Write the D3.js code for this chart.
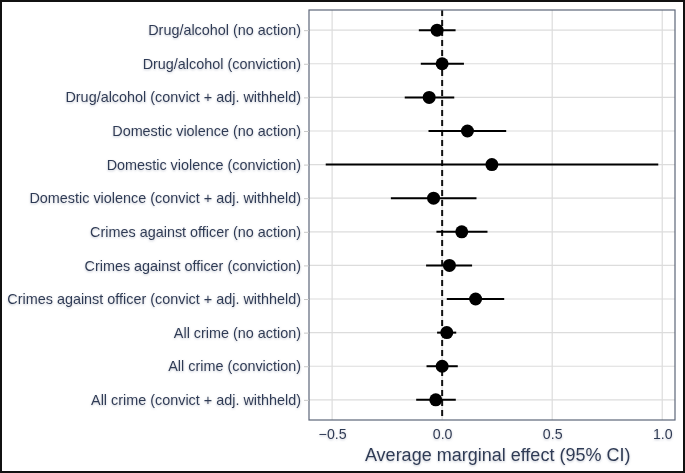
<!DOCTYPE html>
<html>
<head>
<meta charset="utf-8">
<script src="https://cdn.jsdelivr.net/npm/d3@7"></script>
<style>
  html, body { margin: 0; padding: 0; background: #fff; }
  svg text { font-family: "Liberation Sans", Arial, sans-serif; fill: #2f3b55; }
</style>
</head>
<body>
<div id="viz"></div>
<script>
// categories top to bottom
const labels = [
  "Drug/alcohol (no action)",
  "Drug/alcohol (conviction)",
  "Drug/alcohol (convict + adj. withheld)",
  "Domestic violence (no action)",
  "Domestic violence (conviction)",
  "Domestic violence (convict + adj. withheld)",
  "Crimes against officer (no action)",
  "Crimes against officer (conviction)",
  "Crimes against officer (convict + adj. withheld)",
  "All crime (no action)",
  "All crime (conviction)",
  "All crime (convict + adj. withheld)"
];
const estimates = [-0.023, 0.0, -0.059, 0.115, 0.226, -0.039, 0.089, 0.033, 0.152, 0.021, 0.0, -0.029];
const lower     = [-0.106, -0.097, -0.170, -0.062, -0.529, -0.233, -0.026, -0.073, 0.021, -0.023, -0.071, -0.118];
const upper     = [0.061, 0.099, 0.055, 0.291, 0.982, 0.156, 0.206, 0.136, 0.282, 0.064, 0.071, 0.062];
const xTicks = [-0.5, 0.0, 0.5, 1.0];

const rows = labels.map((l, i) => ({label: l, est: estimates[i], lo: lower[i], hi: upper[i]}));

const W = 685, H = 473;
const margin = {top: 10, right: 10, bottom: 53, left: 309};
const iw = W - margin.left - margin.right;
const ih = H - margin.top - margin.bottom;

const svg = d3.select("#viz").append("svg").attr("width", W).attr("height", H);

// soft shadow on text, like the original
const defs = svg.append("defs");
const f = defs.append("filter").attr("id", "glow").attr("x", "-10%").attr("y", "-30%").attr("width", "120%").attr("height", "160%");
f.append("feDropShadow").attr("dx", 0).attr("dy", 1).attr("stdDeviation", 1.2).attr("flood-color", "#8a93a6").attr("flood-opacity", 0.5);

// outer frame
svg.append("rect")
  .attr("x", 1).attr("y", 1).attr("width", W - 2).attr("height", H - 2)
  .attr("fill", "#fff").attr("stroke", "#111").attr("stroke-width", 2);

const g = svg.append("g").attr("transform", `translate(${margin.left},${margin.top})`);

const x = d3.scaleLinear().domain([-0.605, 1.058]).range([0, iw]);
const y = d3.scalePoint().domain(labels).range([0, ih]).padding(0.6);

// grid
g.append("g").selectAll("line").data(xTicks).join("line")
  .attr("x1", d => x(d)).attr("x2", d => x(d))
  .attr("y1", 0).attr("y2", ih)
  .attr("stroke", "#dcdcdc").attr("stroke-width", 1.2);
g.append("g").selectAll("line").data(labels).join("line")
  .attr("x1", 0).attr("x2", iw)
  .attr("y1", d => y(d)).attr("y2", d => y(d))
  .attr("stroke", "#dcdcdc").attr("stroke-width", 1.2);

// zero reference
g.append("line")
  .attr("x1", x(0)).attr("x2", x(0)).attr("y1", 0).attr("y2", ih)
  .attr("stroke", "#111").attr("stroke-width", 2).attr("stroke-dasharray", "6,4");

// CIs
g.append("g").selectAll("line").data(rows).join("line")
  .attr("x1", d => x(d.lo)).attr("x2", d => x(d.hi))
  .attr("y1", d => y(d.label)).attr("y2", d => y(d.label))
  .attr("stroke", "#000").attr("stroke-width", 2);

// points
g.append("g").selectAll("circle").data(rows).join("circle")
  .attr("cx", d => x(d.est)).attr("cy", d => y(d.label))
  .attr("r", 6.5).attr("fill", "#000");

// panel border
g.append("rect")
  .attr("x", 0).attr("y", 0).attr("width", iw).attr("height", ih)
  .attr("fill", "none").attr("stroke", "#5d6679").attr("stroke-width", 1.2);

// axes
const yAxis = g.append("g").call(d3.axisLeft(y).tickSize(5).tickPadding(3));
yAxis.select(".domain").remove();
yAxis.selectAll(".tick line").attr("stroke", "#c8c8c8");
yAxis.selectAll(".tick text")
  .attr("font-size", 14.4).attr("fill", "#2f3b55")
  .attr("filter", "url(#glow)")
  .style("font-family", "'Liberation Sans', Arial, sans-serif");

const xAxis = g.append("g").attr("transform", `translate(0,${ih})`)
  .call(d3.axisBottom(x).tickValues(xTicks).tickFormat(d3.format(".1f")).tickSize(0).tickPadding(9));
xAxis.select(".domain").remove();
xAxis.selectAll(".tick text")
  .attr("font-size", 14.2).attr("fill", "#2f3b55")
  .attr("filter", "url(#glow)")
  .style("font-family", "'Liberation Sans', Arial, sans-serif");

g.append("text")
  .attr("x", (x(-0.5) + x(1.0)) / 2 + 0.5).attr("y", ih + 41)
  .attr("text-anchor", "middle")
  .attr("font-size", 18)
  .attr("filter", "url(#glow)")
  .text("Average marginal effect (95% CI)");
</script>
</body>
</html>
